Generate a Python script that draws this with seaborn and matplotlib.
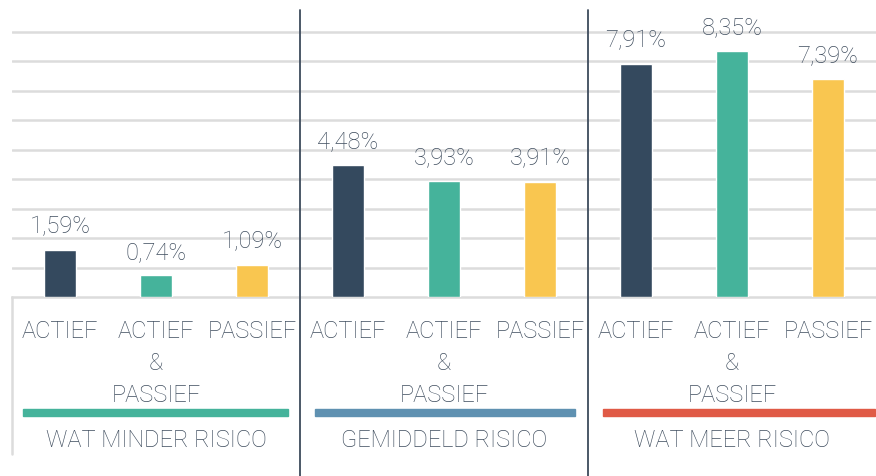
import pandas as pd
import matplotlib.pyplot as plt
import seaborn as sns

# values
categories = ['A1', 'AP1', 'P1', 'A2', 'AP2', 'P2', 'A3', 'AP3', 'P3']
kinds = ['ACTIEF', 'ACTIEF\n&\nPASSIEF', 'PASSIEF'] * 3
values = [1.59, 0.74, 1.09, 4.48, 3.93, 3.91, 7.91, 8.35, 7.39]
value_labels = ['1,59%', '0,74%', '1,09%', '4,48%', '3,93%', '3,91%', '7,91%', '8,35%', '7,39%']
groups = ['WAT MINDER RISICO', 'GEMIDDELD RISICO', 'WAT MEER RISICO']

kind_colors = ['#34495e', '#45b39b', '#f9c650']
group_colors = ['#45b39b', '#5f91b1', '#e05a46']
text_color = '#3f4d5e'

sns.set_style('white')
plt.rcParams['font.family'] = ['Roboto', 'DejaVu Sans']

df = pd.DataFrame({'cat': categories, 'value': values,
                   'kind': ['a', 'ap', 'p'] * 3})

fig = plt.figure(figsize=(8.76, 4.77), dpi=100)
W, H = 876, 477
ax = fig.add_axes([12 / W, (H - 298) / H, 864 / W, 295 / H])

sns.barplot(data=df, x='cat', y='value', hue='kind', palette=kind_colors,
            width=0.33, dodge=False, legend=False, saturation=1, ax=ax, zorder=3)

ax.set_xlim(-0.5, 8.5)
ax.set_ylim(0, 10)
ax.yaxis.grid(True, color='#dcdcdc', linewidth=1.8, zorder=0)
ax.set_axisbelow(True)
for s in ['left', 'right', 'top']:
    ax.spines[s].set_visible(False)
ax.spines['bottom'].set_color('#dcdcdc')
ax.spines['bottom'].set_linewidth(1.8)
ax.set_xticks([])
ax.set_yticks(range(1, 10), labels=[])
ax.tick_params(left=False, bottom=False)
ax.set_xlabel('')
ax.set_ylabel('')

def fy(ypx):
    return (298 - ypx) / 295

tr = ax.get_xaxis_transform()
fs = 17
fw = 'light'

# value labels
for i, (v, lab) in enumerate(zip(values, value_labels)):
    ax.annotate(lab, (i, v), xytext=(0, 9), textcoords='offset points',
                ha='center', va='bottom', fontsize=fs, fontweight=fw,
                color=text_color, zorder=4)

# category labels
for i, k in enumerate(kinds):
    ax.text(i, fy(320), k, transform=tr, ha='center', va='top', fontsize=fs,
            fontweight=fw, color=text_color, linespacing=1.5, clip_on=False)

# group strips and labels
strips = [(23, 288), (315, 575), (603, 875)]
for g, (name, col) in enumerate(zip(groups, group_colors)):
    x0, x1 = strips[g]
    fig.add_artist(plt.Rectangle((x0 / W, (H - 417) / H), (x1 - x0) / W, 7 / H,
                                 color=col, transform=fig.transFigure))
    ax.text(3 * g + 1, fy(440), name, transform=tr, ha='center', va='center',
            fontsize=fs, fontweight=fw, color=text_color, clip_on=False)

# separators
for xs in [2.5, 5.5]:
    ax.plot([xs, xs], [fy(11), fy(477)], transform=tr, color='#3d4b5c',
            linewidth=1.3, clip_on=False, zorder=5)
ax.plot([-0.5, -0.5], [0, fy(455)], transform=tr, color='#dcdcdc',
        linewidth=1.8, clip_on=False)

fig.savefig('out.png', dpi=100)
